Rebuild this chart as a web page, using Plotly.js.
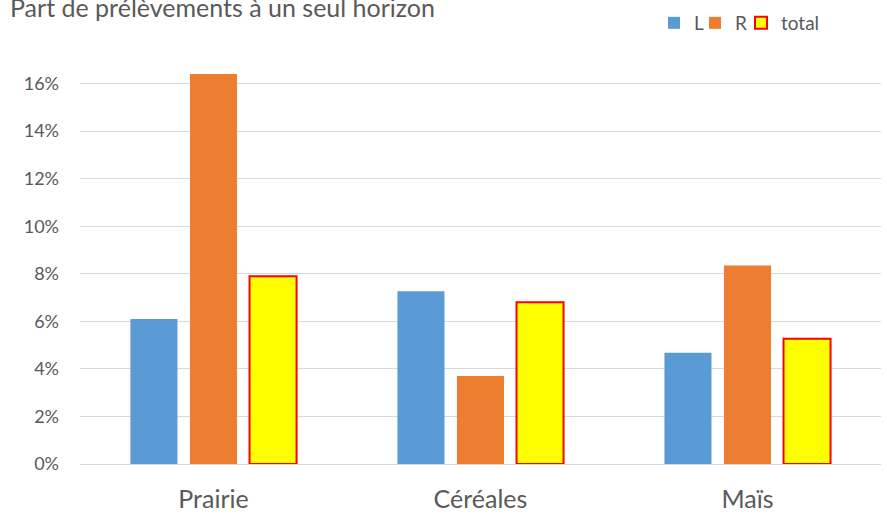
<!DOCTYPE html>
<html>
<head>
<meta charset="utf-8">
<script src="https://cdn.plot.ly/plotly-3.0.1.min.js"></script>
<style>html,body{margin:0;padding:0;background:#fff;}#chart{width:887px;height:518px;}</style>
</head>
<body>
<div id="chart"></div>
<script>
const categories = ["Prairie", "Céréales", "Maïs"];
const seriesL = [0.061, 0.0726, 0.0468];
const seriesR = [0.164, 0.037, 0.0835];
const seriesTotal = [0.079, 0.068, 0.0527];
const yTickVals = [0, 0.02, 0.04, 0.06, 0.08, 0.10, 0.12, 0.14, 0.16];
const yTickText = ["0%", "2%", "4%", "6%", "8%", "10%", "12%", "14%", "16%"];

const fontFam = "Lato, 'Open Sans', sans-serif";
const legFont = {family: fontFam, size: 19, color: "#595959"};
const traces = [
  {type: "bar", name: "L", x: categories, y: seriesL, marker: {color: "#5b9bd5"}, legend: "legend"},
  {type: "bar", name: "R", x: categories, y: seriesR, marker: {color: "#ed7d31"}, legend: "legend2"},
  {type: "bar", name: "total", x: categories, y: seriesTotal, marker: {color: "#ffff00", line: {color: "#ff0000", width: 2}}, legend: "legend3"}
];
function leg(px) {
  return {x: px / 887, xref: "container", y: 1 - 23 / 518, yref: "container", xanchor: "left", yanchor: "middle",
          font: legFont, bgcolor: "rgba(0,0,0,0)", borderwidth: 0, itemwidth: 30};
}
const layout = {
  width: 887, height: 518,
  margin: {l: 80, r: 6, t: 36, b: 54, autoexpand: false},
  paper_bgcolor: "#ffffff", plot_bgcolor: "#ffffff",
  title: {text: "Part de prélèvements à un seul horizon", x: 10 / 887, xanchor: "left", xref: "container",
          y: 1 - 8 / 518, yref: "container", yanchor: "middle",
          font: {family: fontFam, size: 25, color: "#595959"}},
  barmode: "group", bargap: 0.331, bargroupgap: 0.21,
  showlegend: true,
  legend: leg(654), legend2: leg(695), legend3: leg(741),
  xaxis: {type: "category", tickfont: {family: fontFam, size: 25, color: "#595959"},
          showgrid: false, showline: false, ticks: "", zeroline: false, ticklabelstandoff: 18},
  yaxis: {range: [0, 0.18], tickvals: yTickVals, ticktext: yTickText,
          tickfont: {family: fontFam, size: 18, color: "#595959"},
          gridcolor: "#d9d9d9", gridwidth: 1, zeroline: true, zerolinecolor: "#d9d9d9", zerolinewidth: 1,
          showline: false, ticks: "", ticklabelstandoff: 20}
};
Plotly.newPlot("chart", traces, layout, {displayModeBar: false, staticPlot: true});
</script>
</body>
</html>
